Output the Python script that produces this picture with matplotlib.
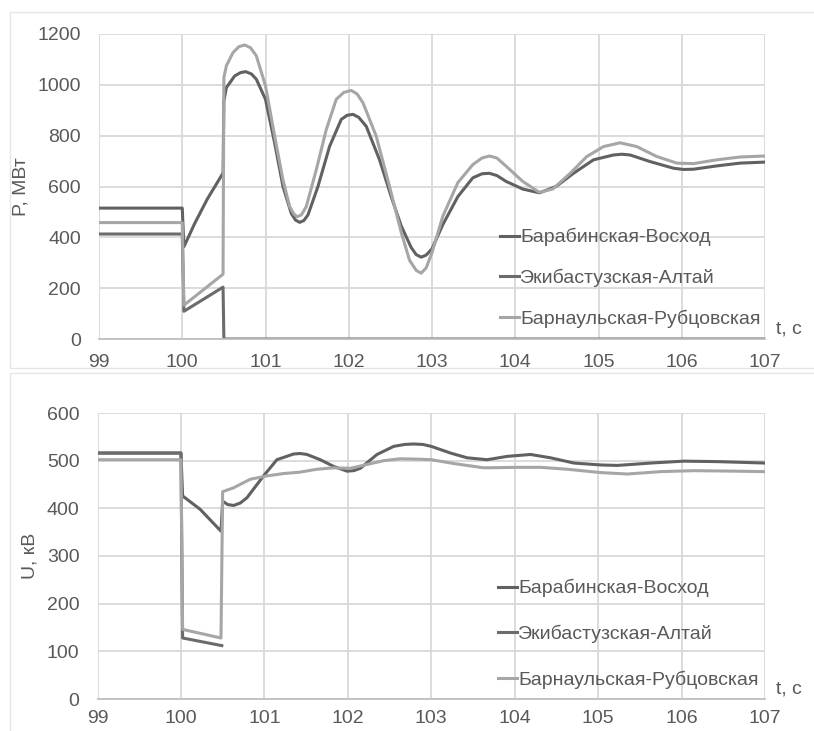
import matplotlib
matplotlib.use('Agg')
import matplotlib.pyplot as plt
from matplotlib.patches import Rectangle

# --- data ---
names = ['Барабинская-Восход', 'Экибастузская-Алтай', 'Барнаульская-Рубцовская']
colors = ['#616161', '#6b6b6b', '#a6a6a6']

# P, MW
t_p_bv = [99, 100.0, 100.02, 100.15, 100.3, 100.49, 100.5, 100.53, 100.63, 100.70,
          100.76, 100.83, 100.89, 101.0, 101.11, 101.21, 101.31, 101.36, 101.41, 101.46,
          101.51, 101.63, 101.77, 101.91, 101.98, 102.05, 102.12, 102.21, 102.37, 102.51,
          102.63, 102.75, 102.81, 102.87, 102.93, 103.0, 103.13, 103.31, 103.49, 103.60,
          103.69, 103.78, 103.89, 104.09, 104.29, 104.49, 104.70, 104.94, 105.18, 105.28,
          105.38, 105.62, 105.90, 106.02, 106.14, 106.42, 106.70, 107.0]
p_bv = [515, 515, 363, 455, 550, 653, 936, 989, 1035, 1048,
        1052, 1043, 1022, 943, 771, 600, 494, 468, 459, 466,
        488, 600, 758, 864, 880, 884, 872, 837, 705, 560,
        445, 360, 332, 322, 330, 355, 450, 560, 634, 650,
        652, 643, 620, 590, 575, 600, 652, 705, 724, 727,
        724, 698, 672, 667, 668, 681, 692, 696]

t_p_ea = [99, 100.0, 100.02, 100.49, 100.5, 107.0]
p_ea = [413, 413, 109, 204, 0, 0]

t_p_br = [99, 100.0, 100.02, 100.49, 100.5, 100.53, 100.61, 100.68, 100.75, 100.82,
          100.89, 101.0, 101.11, 101.21, 101.29, 101.34, 101.38, 101.43, 101.49, 101.61,
          101.73, 101.85, 101.94, 102.03, 102.10, 102.17, 102.33, 102.49, 102.63, 102.73,
          102.81, 102.87, 102.93, 103.0, 103.13, 103.31, 103.49, 103.60, 103.69, 103.78,
          103.89, 104.09, 104.29, 104.45, 104.66, 104.86, 105.06, 105.26, 105.46, 105.70,
          105.94, 106.14, 106.42, 106.70, 107.0]
p_br = [458, 458, 133, 255, 1028, 1075, 1127, 1150, 1157, 1146,
        1114, 996, 798, 626, 521, 492, 481, 488, 521, 666,
        824, 943, 970, 978, 964, 930, 798, 600, 420, 310,
        270, 259, 280, 340, 483, 615, 686, 712, 720, 712,
        680, 620, 577, 590, 652, 718, 757, 772, 757, 718,
        692, 690, 705, 716, 720]

# U, kV
t_u_bv = [99, 100.0, 100.02, 100.23, 100.48, 100.5, 100.56, 100.63, 100.71, 100.79,
          100.99, 101.15, 101.35, 101.43, 101.51, 101.67, 101.83, 101.99, 102.07, 102.15,
          102.35, 102.55, 102.68, 102.79, 102.90, 103.0, 103.23, 103.43, 103.67, 103.91,
          104.19, 104.43, 104.71, 105.03, 105.23, 105.63, 106.03, 106.43, 107.0]
u_bv = [516, 516, 426, 398, 352, 415, 408, 406, 411, 422,
        468, 502, 514, 515, 513, 502, 488, 478, 479, 484,
        513, 530, 534, 535, 534, 530, 516, 506, 502, 509,
        513, 506, 495, 491, 490, 495, 499, 498, 495]

t_u_ea = [99, 100.0, 100.02, 100.49]
u_ea = [516, 516, 128, 112]

t_u_br = [99, 100.0, 100.02, 100.48, 100.5, 100.63, 100.83, 101.03, 101.23, 101.43,
          101.63, 101.83, 102.03, 102.23, 102.43, 102.63, 102.87, 103.0, 103.27, 103.63,
          104.03, 104.31, 104.63, 105.03, 105.35, 105.75, 106.15, 106.63, 107.0]
u_br = [502, 502, 146, 128, 435, 443, 461, 468, 473, 476,
        482, 485, 484, 492, 500, 504, 503, 502, 494, 485,
        486, 486, 482, 475, 472, 477, 479, 478, 477]

x_ticks = [99, 100, 101, 102, 103, 104, 105, 106, 107]

txt = '#595959'
grid = '#d9d9d9'
fs = 14
plt.rcParams['font.family'] = ['Liberation Sans', 'DejaVu Sans']


def style(ax, yticks, ylabel, xpad):
    ax.set_xlim(99, 107)
    ax.set_ylim(yticks[0], yticks[-1])
    ax.set_xticks(x_ticks)
    ax.set_yticks(yticks)
    ax.grid(True, color=grid, linewidth=1.3)
    ax.set_axisbelow(True)
    for s in ['top', 'right', 'left']:
        ax.spines[s].set_visible(False)
    ax.spines['bottom'].set_color('#bfbfbf')
    ax.spines['bottom'].set_linewidth(1.3)
    ax.tick_params(length=0, labelsize=fs, labelcolor=txt)
    ax.tick_params(axis='y', pad=13)
    ax.tick_params(axis='x', pad=xpad)
    ax.set_ylabel(ylabel, fontsize=fs, color=txt, labelpad=6)
    ax.text(1.016, 0.005, 't, с', transform=ax.transAxes, fontsize=fs,
            color=txt, ha='left', va='bottom')


def main():
    fig = plt.figure(figsize=(8.14, 7.31), dpi=100)

    # chart frames
    fig.patches.append(Rectangle((10 / 814, 1 - 368 / 731), 810 / 814, 356 / 731,
                                 transform=fig.transFigure, fill=False,
                                 edgecolor='#e6e6e6', linewidth=1))
    fig.patches.append(Rectangle((10 / 814, -0.01), 810 / 814, 1 - 373 / 731 + 0.01,
                                 transform=fig.transFigure, fill=False,
                                 edgecolor='#e6e6e6', linewidth=1))

    ax1 = fig.add_axes([99 / 814, 1 - 339 / 731, 666 / 814, 305 / 731])
    ax2 = fig.add_axes([97.5 / 814, 1 - 699 / 731, 667.5 / 814, 286 / 731])

    kw = dict(lw=2.2, solid_joinstyle='round')
    ax1.plot(t_p_bv, p_bv, color=colors[0], label=names[0], **kw)
    ax1.plot(t_p_ea, p_ea, color=colors[1], label=names[1], **kw)
    ax1.plot(t_p_br, p_br, color=colors[2], label=names[2], **kw)
    style(ax1, [0, 200, 400, 600, 800, 1000, 1200], 'P, МВт', 11)

    ax2.plot(t_u_bv, u_bv, color=colors[0], label=names[0], **kw)
    ax2.plot(t_u_ea, u_ea, color=colors[1], label=names[1], **kw)
    ax2.plot(t_u_br, u_br, color=colors[2], label=names[2], **kw)
    style(ax2, [0, 100, 200, 300, 400, 500, 600], 'U, кВ', 8)

    for ax, anchor, sp in [(ax1, ((500 - 99) / 666, 1 - (228 - 34) / 305), 1.15),
                           (ax2, ((498 - 97.5) / 667.5, 1 - (579 - 413) / 286), 1.42)]:
        leg = ax.legend(loc='upper left', bbox_to_anchor=anchor, frameon=False,
                        fontsize=fs, handlelength=1.0, handletextpad=0.05,
                        labelspacing=sp, borderaxespad=0, borderpad=0)
        for t in leg.get_texts():
            t.set_color(txt)

    fig.savefig('out.png', dpi=100)


if __name__ == '__main__':
    main()
